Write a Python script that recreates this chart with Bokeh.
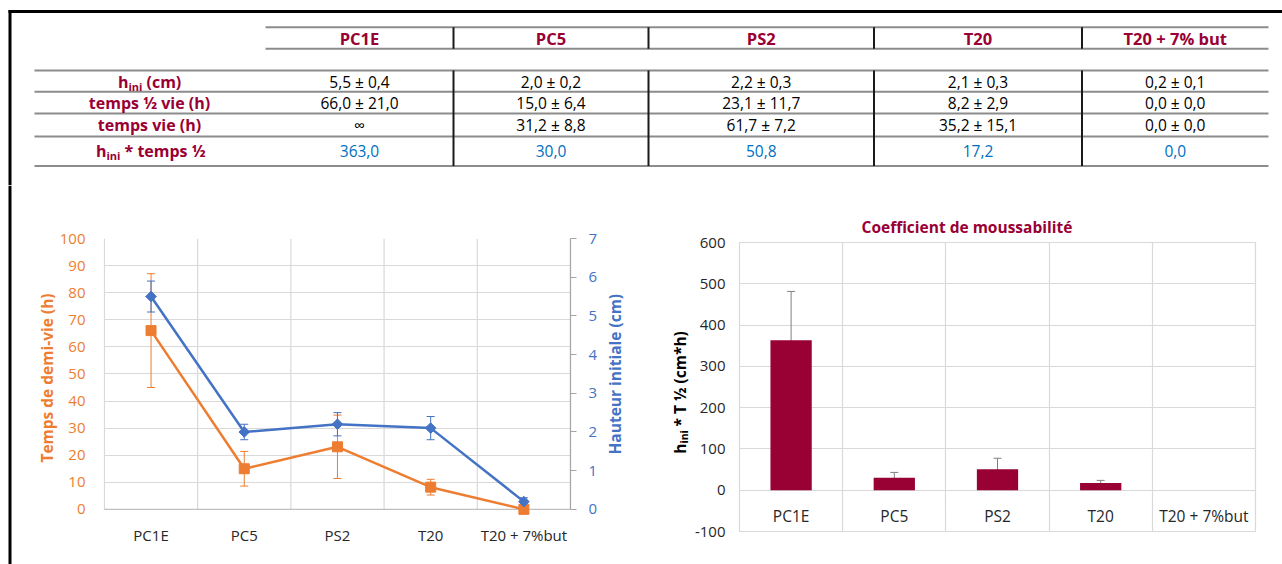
import math

from bokeh.plotting import figure
from bokeh.layouts import column, row
from bokeh.models import (Range1d, LinearAxis, FixedTicker, Grid, ColumnDataSource,
                          Whisker, TeeHead)
from bokeh.core.properties import value
from bokeh.embed import file_html
from bokeh.resources import INLINE

# ---------------------------------------------------------------- data
samples = ["PC1E", "PC5", "PS2", "T20", "T20 + 7% but"]
chart_labels = ["PC1E", "PC5", "PS2", "T20", "T20 + 7%but"]

h_ini = [5.5, 2.0, 2.2, 2.1, 0.2]             # cm
h_ini_sd = [0.4, 0.2, 0.3, 0.3, 0.1]
t_half = [66.0, 15.0, 23.1, 8.2, 0.0]         # h
t_half_sd = [21.0, 6.4, 11.7, 2.9, 0.0]
t_life = [math.inf, 31.2, 61.7, 35.2, 0.0]    # h
t_life_sd = [0.0, 8.8, 7.2, 15.1, 0.0]
foam_coef = [363.0, 30.0, 50.8, 17.2, 0.0]    # cm*h
foam_coef_err = [118.5, 13.1, 26.6, 6.6, 0.0]

t_half_ticks = list(range(0, 101, 10))
h_ini_ticks = list(range(0, 8))
foam_ticks = list(range(-100, 601, 100))

# ---------------------------------------------------------------- style
FONT = "Open Sans"
CRIMSON = "#990033"
ORANGE = "#ED7D31"
BLUE = "#4472C4"
VALUE_BLUE = "#0070C0"
INK = "#262626"
GRID = "#D9D9D9"
RULE = "#8C8C8C"


def fmt(v):
    return f"{v:.1f}".replace(".", ",")


def pm(m, s):
    return "∞" if math.isinf(m) else f"{fmt(m)} ± {fmt(s)}"


def base_fig(w, h, **kw):
    p = figure(width=w, height=h, output_backend="svg", toolbar_location=None,
               x_axis_location=None, y_axis_location=None, **kw)
    p.center = [r for r in p.center if not isinstance(r, Grid)]
    p.outline_line_color = None
    p.background_fill_color = "white"
    p.border_fill_color = "white"
    p.frame_align = False
    return p


# ================================================================ table
TAB_W, TAB_H = 1282, 185
tab = base_fig(TAB_W, TAB_H, x_range=Range1d(0, TAB_W), y_range=Range1d(TAB_H, 0),
               min_border=0)

# black frame (top and left edges)
tab.quad(left=[8, 8], right=[11, TAB_W], top=[9.5, 9.5], bottom=[TAB_H, 12.5],
         color="black", line_color=None)

COL_EDGES = [265, 453, 648, 873.5, 1081.5, 1268]
LABEL_LEFT = 34
LABEL_CX = 149
HEAD_TOP, HEAD_BOTTOM, HEAD_Y = 26.7, 48.3, 38
BODY_RULES = [70, 91.3, 113, 136, 165.5]
ROW_Y = [81, 102.5, 124.5, 150]
SUB_DROP = 5

col_cx = [(a + b) / 2 for a, b in zip(COL_EDGES[:-1], COL_EDGES[1:])]
inner_edges = COL_EDGES[1:-1]

rule_y = [HEAD_TOP, HEAD_BOTTOM] + BODY_RULES
rule_x0 = [COL_EDGES[0]] * 2 + [LABEL_LEFT] * len(BODY_RULES)
tab.segment(x0=rule_x0, x1=[COL_EDGES[-1]] * len(rule_y), y0=rule_y, y1=rule_y,
            line_color=RULE, line_width=2)
tab.segment(x0=inner_edges * 2, x1=inner_edges * 2,
            y0=[HEAD_TOP] * 4 + [BODY_RULES[0]] * 4,
            y1=[HEAD_BOTTOM] * 4 + [BODY_RULES[-1]] * 4,
            line_color="#1A1A1A", line_width=2)

text_kw = dict(text_font=value(FONT), text_align="center", text_baseline="alphabetic")
tab.text(x=col_cx, y=[HEAD_Y] * len(samples), text=samples,
         text_font_style="bold", text_font_size="16.5px", text_color=CRIMSON, **text_kw)

rows = [
    [pm(m, s) for m, s in zip(h_ini, h_ini_sd)],
    [pm(m, s) for m, s in zip(t_half, t_half_sd)],
    [pm(m, s) for m, s in zip(t_life, t_life_sd)],
    [fmt(v) for v in foam_coef],
]
for r, vals in enumerate(rows):
    tab.text(x=col_cx, y=[ROW_Y[r]] * len(vals), text=vals, text_font_size="15.5px",
             text_color=VALUE_BLUE if r == 3 else "black", **text_kw)

# plain row labels
tab.text(x=[LABEL_CX] * 2, y=[ROW_Y[1], ROW_Y[2]],
         text=["temps ½ vie (h)", "temps vie (h)"], text_font_style="bold",
         text_font_size="16px", text_color=CRIMSON, **text_kw)

# row labels with the "ini" subscript: (row, end of "h", start of the rest, rest)
piece = dict(text_font=value(FONT), text_font_style="bold", text_color=CRIMSON,
             text_baseline="alphabetic")
for r, h_end, rest_x, rest in [(0, 128, 146, "(cm)"), (3, 106, 124, "* temps ½")]:
    tab.text(x=[h_end], y=[ROW_Y[r]], text=["h"], text_align="right",
             text_font_size="16px", **piece)
    tab.text(x=[h_end], y=[ROW_Y[r] + SUB_DROP], text=["ini"], text_align="left",
             text_font_size="11px", **piece)
    tab.text(x=[rest_x], y=[ROW_Y[r]], text=[rest], text_align="left",
             text_font_size="16px", **piece)

# ================================================================ charts
CH_H = 564 - TAB_H
n = len(chart_labels)
xc = [i + 0.5 for i in range(n)]
edges = list(range(n + 1))

# thin strip carrying the left edge of the black frame
strip = base_fig(12, CH_H, x_range=Range1d(0, 12), y_range=Range1d(CH_H, 0), min_border=0)
strip.quad(left=[8], right=[11], top=[0], bottom=[CH_H], color="black", line_color=None)

# ---------------------------------------------------------- half-life / height
LP_RIGHT = 600
lp = base_fig(LP_RIGHT - 12, CH_H, x_range=Range1d(-0.01, n), y_range=Range1d(-3, 100),
              min_border_left=91, min_border_right=30, min_border_top=53,
              min_border_bottom=47)
lp.extra_y_ranges = {"h": Range1d(-0.21, 7.0)}

lp.add_layout(Grid(dimension=1, ticker=FixedTicker(ticks=t_half_ticks),
                   grid_line_color=GRID, grid_line_width=1.2))
lp.segment(x0=edges, x1=edges, y0=[0] * len(edges), y1=[100] * len(edges),
           line_color=GRID, line_width=1.2)
lp.segment(x0=[0], x1=[n], y0=[0], y1=[0], line_color="#BFBFBF", line_width=1.3)

yl = LinearAxis(ticker=FixedTicker(ticks=t_half_ticks), axis_line_color=None,
                major_tick_line_color=None, minor_tick_line_color=None,
                major_tick_in=0, major_tick_out=0, major_label_standoff=18,
                major_label_text_color=ORANGE, major_label_text_font=FONT,
                major_label_text_font_size="15px",
                axis_label="Temps de demi-vie (h)", axis_label_text_color=ORANGE,
                axis_label_text_font=FONT, axis_label_text_font_style="bold",
                axis_label_text_font_size="15.5px", axis_label_standoff=-1)
lp.add_layout(yl, "left")

yr = LinearAxis(y_range_name="h", ticker=FixedTicker(ticks=h_ini_ticks), bounds=(0, 7),
                axis_line_color="#A6A6A6", axis_line_width=1.2,
                major_tick_line_color="#A6A6A6", major_tick_line_width=1.2,
                minor_tick_line_color=None, major_tick_in=0, major_tick_out=6,
                major_label_standoff=12, major_label_text_color=BLUE,
                major_label_text_font=FONT, major_label_text_font_size="15px")
lp.add_layout(yr, "right")

xa = LinearAxis(ticker=FixedTicker(ticks=xc),
                major_label_overrides={x: lab for x, lab in zip(xc, chart_labels)},
                axis_line_color=None, major_tick_line_color=None,
                minor_tick_line_color=None, major_tick_in=0, major_tick_out=0,
                major_label_standoff=7, major_label_text_color=INK,
                major_label_text_font=FONT, major_label_text_font_size="15px")
lp.add_layout(xa, "below")

t_src = ColumnDataSource(dict(x=xc, lo=[m - s for m, s in zip(t_half, t_half_sd)],
                              hi=[m + s for m, s in zip(t_half, t_half_sd)]))
lp.add_layout(Whisker(source=t_src, base="x", lower="lo", upper="hi",
                      line_color=ORANGE, line_width=1,
                      upper_head=TeeHead(size=8, line_color=ORANGE, line_width=1),
                      lower_head=TeeHead(size=8, line_color=ORANGE, line_width=1)))
lp.line(x=xc, y=t_half, line_color=ORANGE, line_width=2.5)
lp.scatter(x=xc, y=t_half, marker="square", size=10, color=ORANGE)

h_src = ColumnDataSource(dict(x=xc, lo=[m - s for m, s in zip(h_ini, h_ini_sd)],
                              hi=[m + s for m, s in zip(h_ini, h_ini_sd)]))
lp.add_layout(Whisker(source=h_src, base="x", lower="lo", upper="hi", y_range_name="h",
                      line_color=BLUE, line_width=1,
                      upper_head=TeeHead(size=8, line_color=BLUE, line_width=1),
                      lower_head=TeeHead(size=8, line_color=BLUE, line_width=1)))
lp.line(x=xc, y=h_ini, y_range_name="h", line_color=BLUE, line_width=2.5)
lp.scatter(x=xc, y=h_ini, y_range_name="h", marker="square", angle=math.pi / 4,
           size=7.5, color=BLUE)

# ---------------------------------------------------------- vertical titles between the charts
# (own panel; canvas pixels used as coordinates)
MID_RIGHT = 691
mid = base_fig(MID_RIGHT - LP_RIGHT, CH_H, x_range=Range1d(LP_RIGHT, MID_RIGHT),
               y_range=Range1d(564, TAB_H), min_border=0)
up = dict(angle=math.pi / 2, text_font=value(FONT), text_font_style="bold",
          text_baseline="alphabetic")
mid.text(x=[614], y=[373.7], text=["Hauteur initiale (cm)"], text_align="center",
         text_color=BLUE, text_font_size="15.5px", **up)
# h_ini * T 1/2 (cm*h), reading upwards, with the subscript
mid.text(x=[679.5], y=[443], text=["h"], text_align="right", text_color="black",
         text_font_size="15.5px", **up)
mid.text(x=[683], y=[443], text=["ini"], text_align="left", text_color="black",
         text_font_size="10.5px", **up)
mid.text(x=[679.5], y=[426], text=["* T ½ (cm*h)"], text_align="left", text_color="black",
         text_font_size="15.5px", **up)

# ---------------------------------------------------------- foamability coefficient
RP_TOP, RP_BOTTOM = 57, 33
rp = base_fig(1282 - MID_RIGHT, CH_H, x_range=Range1d(0, n), y_range=Range1d(-100, 600),
              min_border_left=738 - MID_RIGHT, min_border_right=27, min_border_top=RP_TOP,
              min_border_bottom=RP_BOTTOM, title="Coefficient de moussabilité")
rp.outline_line_color = GRID
rp.outline_line_width = 1.2
rp.title.align = "left"
rp.title.offset = 122
rp.title.standoff = 9
rp.title.text_color = CRIMSON
rp.title.text_font = FONT
rp.title.text_font_style = "bold"
rp.title.text_font_size = "15.5px"

rp.add_layout(Grid(dimension=1, ticker=FixedTicker(ticks=foam_ticks),
                   grid_line_color=GRID, grid_line_width=1.2))
rp.add_layout(Grid(dimension=0, ticker=FixedTicker(ticks=edges[1:-1]),
                   grid_line_color=GRID, grid_line_width=1.2))

ry = LinearAxis(ticker=FixedTicker(ticks=foam_ticks), axis_line_color=None,
                major_tick_line_color=None, minor_tick_line_color=None,
                major_tick_in=0, major_tick_out=0, major_label_standoff=14,
                major_label_overrides={t: str(t) for t in foam_ticks},
                major_label_text_color=INK, major_label_text_font=FONT,
                major_label_text_font_size="15px")
rp.add_layout(ry, "left")

rp.vbar(x=xc, top=foam_coef, width=0.4, fill_color=CRIMSON, line_color=None)
with_err = [i for i, e in enumerate(foam_coef_err) if e > 0]
f_src = ColumnDataSource(dict(
    x=[xc[i] for i in with_err],
    lo=[foam_coef[i] - foam_coef_err[i] for i in with_err],
    hi=[foam_coef[i] + foam_coef_err[i] for i in with_err]))
rp.add_layout(Whisker(source=f_src, base="x", lower="lo", upper="hi",
                      line_color="#808080", line_width=1,
                      upper_head=TeeHead(size=8, line_color="#808080", line_width=1),
                      lower_head=TeeHead(size=8, line_color="#808080", line_width=1)))
rp.text(x=xc, y=[0] * n, text=chart_labels, y_offset=26, text_align="center",
        text_baseline="alphabetic", text_font=value(FONT), text_font_size="15.5px",
        text_color=INK)

page = column(tab, row(strip, lp, mid, rp))
open("out.html", "w").write(file_html(page, INLINE))
